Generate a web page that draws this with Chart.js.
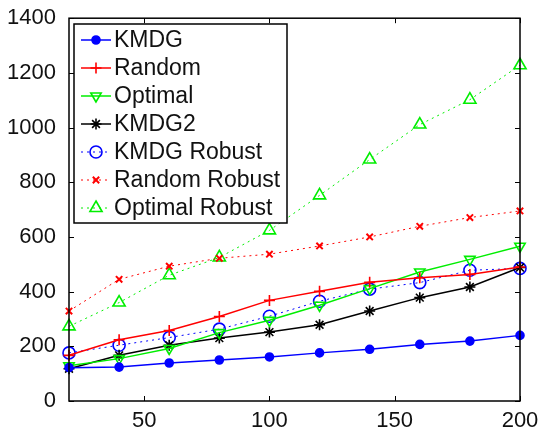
<!DOCTYPE html>
<html>
<head>
<meta charset="utf-8">
<script src="https://cdn.jsdelivr.net/npm/chart.js@4.4.0/dist/chart.umd.min.js"></script>
<style>
  body { margin: 0; background: #fff; }
  canvas { display: block; }
</style>
</head>
<body>
<canvas id="chart" width="541" height="430"></canvas>
<script>
// x values (number of ...) and series
const xValues = [20, 40, 60, 80, 100, 120, 140, 160, 180, 200];
const xTicks = [50, 100, 150, 200];
const yTicks = [0, 200, 400, 600, 800, 1000, 1200, 1400];

const kmdg = [122, 124, 139, 150, 161, 176, 189, 207, 219, 240];
const random = [167, 224, 258, 309, 368, 401, 434, 451, 463, 490];
const optimal = [129, 155, 192, 250, 295, 350, 411, 472, 518, 566];
const kmdg2 = [118, 167, 204, 230, 252, 279, 329, 378, 417, 488];
const kmdgRobust = [176, 204, 232, 263, 310, 365, 409, 433, 478, 485];
const randomRobust = [329, 445, 493, 522, 537, 567, 600, 639, 671, 695];
const optimalRobust = [273, 360, 460, 525, 624, 752, 883, 1011, 1102, 1228];

const FONT = 'Liberation Sans, Arial, sans-serif';

function series(label, values, color, style, extra) {
    return Object.assign({
        label: label,
        data: values.map((y, i) => ({ x: xValues[i], y: y })),
        borderColor: color,
        backgroundColor: 'transparent',
        pointBorderColor: color,
        pointBackgroundColor: 'transparent',
        pointStyle: style,
        pointRadius: 5,
        pointBorderWidth: 1.6,
        borderWidth: 1.5,
        tension: 0,
        clip: false
    }, extra || {});
}

const datasets = [
    series('KMDG', kmdg, '#0000ff', 'circle', { pointRadius: 4, pointBackgroundColor: '#0000ff' }),
    series('Random', random, '#ff0000', 'cross', { pointRadius: 5.5 }),
    series('Optimal', optimal, '#00ee00', 'triangle', { pointRotation: 180, pointRadius: 6 }),
    series('KMDG2', kmdg2, '#000000', 'star', { pointRadius: 5.5 }),
    series('KMDG Robust', kmdgRobust, '#0000ff', 'circle', { pointRadius: 6, borderWidth: 1, borderDash: [2, 4] }),
    series('Random Robust', randomRobust, '#ff0000', 'crossRot', { pointRadius: 4.5, pointBorderWidth: 2, borderWidth: 1, borderDash: [2, 4] }),
    series('Optimal Robust', optimalRobust, '#00ee00', 'triangle', { pointRadius: 7, borderWidth: 1, borderDash: [2, 4] })
];

// box, inward ticks and legend in matlab style
const frame = {
    id: 'frame',
    afterDatasetsDraw(chart) {
        const ctx = chart.ctx;
        const a = chart.chartArea;
        const xs = chart.scales.x, ys = chart.scales.y;
        ctx.save();
        ctx.strokeStyle = '#000';
        ctx.lineWidth = 1.5;
        ctx.strokeRect(a.left, a.top, a.right - a.left, a.bottom - a.top);
        ctx.lineWidth = 1;
        ctx.beginPath();
        xTicks.forEach(v => {
            const px = Math.round(xs.getPixelForValue(v)) + 0.5;
            ctx.moveTo(px, a.bottom); ctx.lineTo(px, a.bottom - 5);
            ctx.moveTo(px, a.top); ctx.lineTo(px, a.top + 5);
        });
        yTicks.forEach(v => {
            const py = Math.round(ys.getPixelForValue(v)) + 0.5;
            ctx.moveTo(a.left, py); ctx.lineTo(a.left + 5, py);
            ctx.moveTo(a.right, py); ctx.lineTo(a.right - 5, py);
        });
        ctx.stroke();

        // legend
        const lx = 74, ly = 24, lw = 213, lh = 199;
        ctx.fillStyle = '#fff';
        ctx.fillRect(lx, ly, lw, lh);
        ctx.lineWidth = 1.5;
        ctx.strokeStyle = '#000';
        ctx.strokeRect(lx, ly, lw, lh);
        ctx.font = '23px ' + FONT;
        ctx.textBaseline = 'middle';
        ctx.textAlign = 'left';
        chart.data.datasets.forEach((ds, i) => {
            const y = 40 + i * 28;
            ctx.save();
            ctx.strokeStyle = ds.borderColor;
            ctx.lineWidth = ds.borderWidth;
            ctx.setLineDash(ds.borderDash || []);
            ctx.beginPath();
            ctx.moveTo(81, y); ctx.lineTo(111, y);
            ctx.stroke();
            ctx.setLineDash([]);
            ctx.strokeStyle = ds.pointBorderColor;
            ctx.fillStyle = ds.pointBackgroundColor;
            ctx.lineWidth = ds.pointBorderWidth;
            Chart.helpers.drawPoint(ctx, {
                pointStyle: ds.pointStyle,
                radius: ds.pointRadius,
                rotation: ds.pointRotation || 0,
                borderWidth: ds.pointBorderWidth
            }, 96, y);
            ctx.restore();
            ctx.fillStyle = '#111';
            ctx.fillText(ds.label, 114, y + 1);
        });
        ctx.restore();
    }
};

new Chart(document.getElementById('chart'), {
    type: 'line',
    data: { datasets },
    options: {
        responsive: false,
        animation: false,
        layout: { padding: { left: 0, top: 18, right: 21, bottom: 0 } },
        plugins: {
            legend: { display: false },
            tooltip: { enabled: false }
        },
        scales: {
            x: {
                type: 'linear',
                min: 20,
                max: 200,
                grid: { display: false },
                border: { display: false },
                afterBuildTicks: s => { s.ticks = xTicks.map(v => ({ value: v })); },
                afterFit: s => { s.height = 29; },
                ticks: { color: '#111', padding: -1, maxRotation: 0, callback: v => String(v), font: { family: FONT, size: 22 } }
            },
            y: {
                min: 0,
                max: 1400,
                grid: { display: false },
                border: { display: false },
                afterBuildTicks: s => { s.ticks = yTicks.map(v => ({ value: v })); },
                afterFit: s => { s.width = 69; },
                ticks: { color: '#111', padding: 5, callback: v => String(v), font: { family: FONT, size: 22 } }
            }
        }
    },
    plugins: [frame]
});
</script>
</body>
</html>
